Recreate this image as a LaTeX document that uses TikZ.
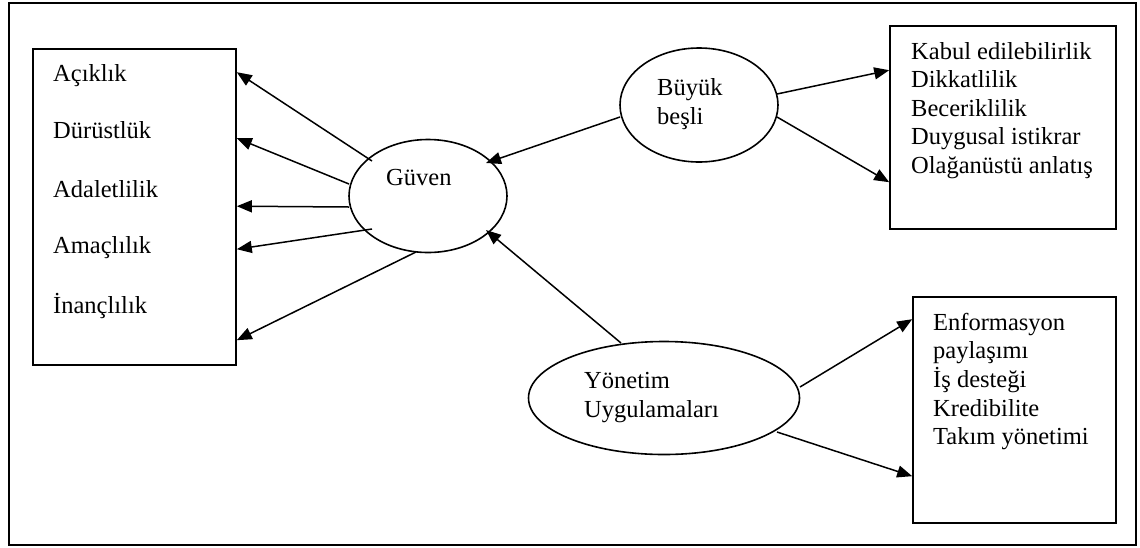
\documentclass[tikz,border=0pt]{standalone}
\usepackage{fontspec}
\setmainfont{Liberation Serif}
\usetikzlibrary{arrows.meta,shapes.geometric,calc}
\begin{document}
\begin{tikzpicture}[x=1pt,y=-1pt,
  box/.style={draw,rectangle,inner sep=0pt,line width=1.6pt},
  oval/.style={draw,ellipse,inner sep=0pt,line width=1.6pt},
  txt/.style={anchor=base west,inner sep=0pt,font=\fontsize{24.5}{29}\selectfont},
  link/.style={-{Triangle[length=15pt,width=12pt]},line width=1.5pt}]
\useasboundingbox (0,0) rectangle (1140,547);

% outer frame
\node[box,minimum width=1127pt,minimum height=542pt] (frame) at (572.5,274) {};

% boxes
\node[box,minimum width=203pt,minimum height=316pt] (traits) at (134.5,207) {};
\node[box,minimum width=226pt,minimum height=203pt] (bigfive) at (1003,127.5) {};
\node[box,minimum width=203pt,minimum height=226pt] (practices) at (1014.5,410) {};

% ovals
\node[oval,minimum width=158pt,minimum height=113pt] (guven) at (428,196) {};
\node[oval,minimum width=158pt,minimum height=114pt] (buyuk) at (699,105) {};
\node[oval,minimum width=271pt,minimum height=113pt] (yonetim) at (664,398) {};

% oval texts
\node[txt] (tguven) at (386,185) {Güven};
\node[txt] (tbuyuk1) at (657,95) {Büyük};
\node[txt] (tbuyuk2) at (657,124) {beşli};
\node[txt] (tyon1) at (584,388) {Yönetim};
\node[txt] (tyon2) at (584,417) {Uygulamaları};

% left box items
\node[txt] (l1) at (53,81) {Açıklık};
\node[txt] (l2) at (53,138) {Dürüstlük};
\node[txt] (l3) at (53,197) {Adaletlilik};
\node[txt] (l4) at (53,253) {Amaçlılık};
\node[txt] (l5) at (53,313) {İnançlılık};

% upper right items
\node[txt] (r1) at (911,59) {Kabul edilebilirlik};
\node[txt] (r2) at (911,87) {Dikkatlilik};
\node[txt] (r3) at (911,116) {Beceriklilik};
\node[txt] (r4) at (911,144) {Duygusal istikrar};
\node[txt] (r5) at (911,173) {Olağanüstü anlatış};

% lower right items
\node[txt] (p1) at (933,330) {Enformasyon};
\node[txt] (p2) at (933,358) {paylaşımı};
\node[txt] (p3) at (933,387) {İş desteği};
\node[txt] (p4) at (933,416) {Kredibilite};
\node[txt] (p5) at (933,444) {Takım yönetimi};

% trust to its components
\draw[link] ($(guven)+(-56,-35)$) -- ([yshift=-24pt]traits.north east);
\draw[link] ($(guven)+(-79,-12)$) -- ([yshift=-90pt]traits.north east);
\draw[link] ($(guven)+(-79,11)$) -- ([yshift=-158pt]traits.north east);
\draw[link] ($(guven)+(-56,33)$) -- ([yshift=-201pt]traits.north east);
\draw[link] ($(guven)+(-12,56)$) -- ([yshift=-292pt]traits.north east);

% big five
\draw[link] ($(buyuk)+(-79,12)$) -- ($(guven)+(58,-33)$);
\draw[link] ($(buyuk)+(78,-11)$) -- ([yshift=-45pt]bigfive.north west);
\draw[link] ($(buyuk)+(78,12)$) -- ([yshift=-157pt]bigfive.north west);

% management practices
\draw[link] ($(yonetim)+(-43,-55)$) -- ($(guven)+(58,34)$);
\draw[link] ($(yonetim)+(136,-11)$) -- ([yshift=-23pt]practices.north west);
\draw[link] ($(yonetim)+(113,34)$) -- ([yshift=-180pt]practices.north west);
\end{tikzpicture}
\end{document}
